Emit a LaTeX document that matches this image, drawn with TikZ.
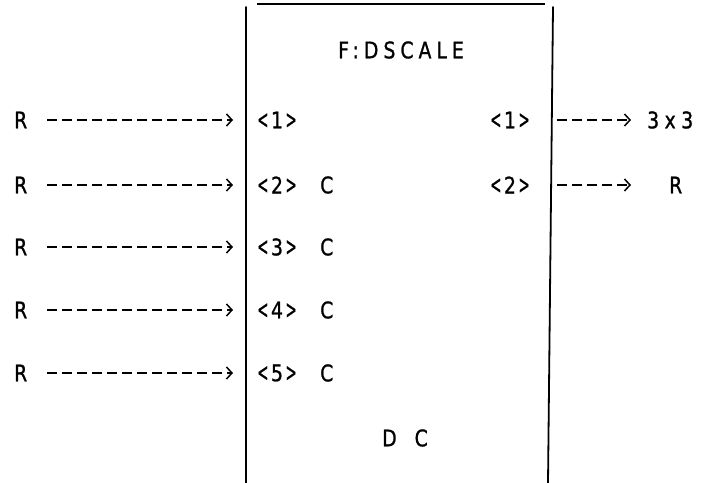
\documentclass[tikz,border=0pt]{standalone}
\usepackage{fontspec}
\usepackage{graphicx}
\setmainfont{DejaVu Sans}[FakeStretch=0.82,FakeBold=1]
\usetikzlibrary{arrows.meta}
\newcommand{\lch}{\scalebox{0.72}[1.12]{<}}
\newcommand{\rch}{\scalebox{0.72}[1.12]{>}}
\newcommand{\portlbl}[1]{\lch\kern2.5bp#1\kern2.5bp\rch}
\begin{document}
\begin{tikzpicture}[x=1bp,y=-1bp,
  txt/.style={inner sep=0pt,font=\fontsize{23}{26}\selectfont},
  boxline/.style={line width=1.8bp,line cap=round},
  conn/.style={line width=1.5bp,dash pattern=on 10bp off 5bp,-{Straight Barb[length=5.5bp,width=12bp,line width=1.5bp]}}]
\useasboundingbox (0,0) rectangle (723,483);
% box outline
\coordinate (tl) at (246,7);
\coordinate (bl) at (246,483);
\coordinate (tr) at (553,7);
\coordinate (br) at (548,483);
\coordinate (ta) at (257,4);
\coordinate (tb) at (545,4);
\draw[boxline] (tl) -- (bl);
\draw[boxline] (tr) -- (br);
\draw[line width=1.4bp] (ta) -- (tb);
% title and footer
\node[txt,anchor=west] (title) at (338,50) {\addfontfeature{LetterSpace=22}F:DSCALE};
\node[txt,anchor=west] (foot) at (382,438) {D\hspace{18bp}C};
% inputs
\foreach \i/\y in {1/120,2/185,3/247,4/310,5/373}{
  \node[txt,anchor=west] (in\i) at (14,\y) {R};
  \coordinate (lh\i) at (233,\y);
  \node[txt,anchor=west] (pin\i) at (257,\y) {\portlbl{\i}};
  \draw[conn] (47,\y) -- (lh\i);
}
\foreach \i/\y in {2/185,3/247,4/310,5/373}{
  \node[txt,anchor=west] (ct\i) at (320,\y) {C};
}
% outputs
\node[txt,anchor=east] (pout1) at (530,120) {\portlbl{1}};
\node[txt,anchor=east] (pout2) at (530,185) {\portlbl{2}};
\node[txt,anchor=west] (out1) at (647,120) {3\hspace{5.5bp}x\hspace{5.5bp}3};
\node[txt,anchor=west] (out2) at (669,185) {R};
\coordinate (rs1) at (557,120);
\coordinate (rs2) at (557,185);
\coordinate (re1) at (631,120);
\coordinate (re2) at (631,185);
\draw[conn] (rs1) -- (re1);
\draw[conn] (rs2) -- (re2);
\end{tikzpicture}
\end{document}
